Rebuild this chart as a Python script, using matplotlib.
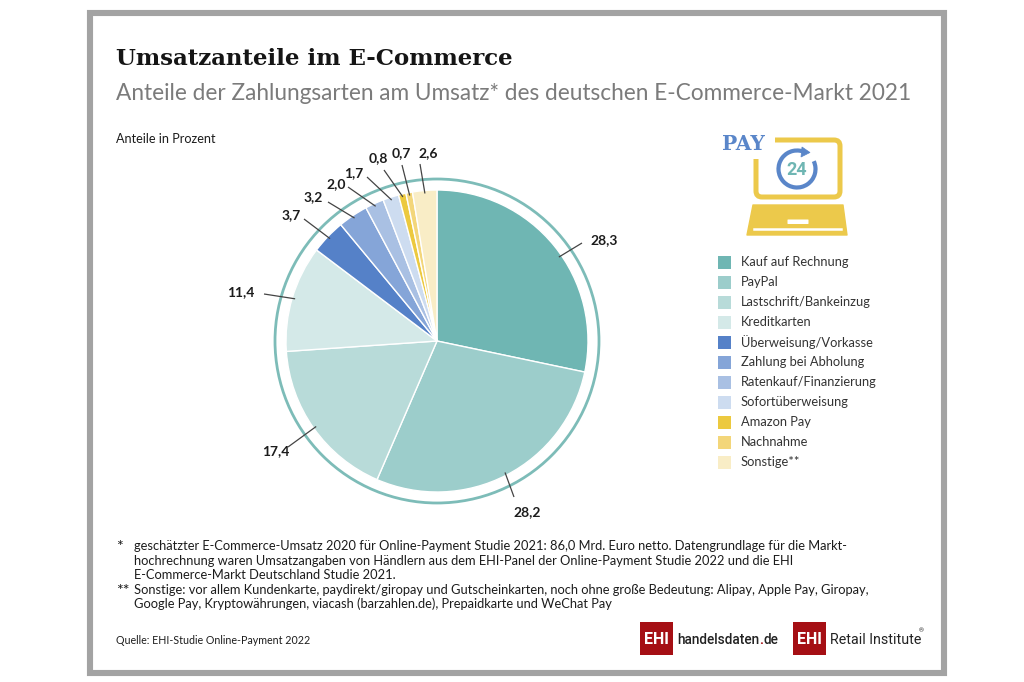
"""Umsatzanteile im E-Commerce: pie chart with legend, icon and footnotes."""

import numpy as np
import matplotlib
matplotlib.use("Agg")
import matplotlib.pyplot as plt
from matplotlib.patches import Arc, Circle, FancyBboxPatch, PathPatch, Polygon, Rectangle
from matplotlib.path import Path

# ---------------------------------------------------------------------------
# Data
# ---------------------------------------------------------------------------
categories = [
    "Kauf auf Rechnung", "PayPal", "Lastschrift/Bankeinzug", "Kreditkarten",
    "Überweisung/Vorkasse", "Zahlung bei Abholung", "Ratenkauf/Finanzierung",
    "Sofortüberweisung", "Amazon Pay", "Nachnahme", "Sonstige**",
]
shares = [28.3, 28.2, 17.4, 11.4, 3.7, 3.2, 2.0, 1.7, 0.8, 0.7, 2.6]
share_labels = ["28,3", "28,2", "17,4", "11,4", "3,7", "3,2", "2,0", "1,7", "0,8", "0,7", "2,6"]
slice_colors = [
    "#6fb6b3", "#9ccdcb", "#b8dbd9", "#d4e9e8", "#5581c8", "#85a5d8",
    "#a9c0e3", "#cddcf0", "#ecc93f", "#f3d67a", "#f9edc6",
]

footnotes = [
    "geschätzter E-Commerce-Umsatz 2020 für Online-Payment Studie 2021: 86,0 Mrd. Euro netto. Datengrundlage für die Markt-",
    "hochrechnung waren Umsatzangaben von Händlern aus dem EHI-Panel der Online-Payment Studie 2022 und die EHI",
    "E-Commerce-Markt Deutschland Studie 2021.",
    "Sonstige: vor allem Kundenkarte, paydirekt/giropay und Gutscheinkarten, noch ohne große Bedeutung: Alipay, Apple Pay, Giropay,",
    "Google Pay, Kryptowährungen, viacash (barzahlen.de), Prepaidkarte und WeChat Pay",
]

# ---------------------------------------------------------------------------
# Layout, in reference pixels
# ---------------------------------------------------------------------------
W, H = 1024, 682
CX, CY = 437, 341
PIE_R = 151
RING_R = 162
# label centre and outer end of the leader line, one per slice
label_pos = [(604, 240), (527, 512), (276, 451), (241, 292), (291, 215), (313, 197),
             (336, 184), (354, 173), (378, 158), (401, 153), (428, 153)]
leader_end = [(582, 243), (514, 497), (288, 447), (264, 294), (304, 219), (328, 202),
              (348, 187), (367, 177), (384, 170), (402, 165), (420, 164)]
leader_nudge = [4.5, 0, 0, 0, 0, 0, 0, 0, 0, 0, 0]  # degrees

SANS = "Lato"
TEXT = "#1c1c1c"
FRAME = "#a3a3a3"
YELLOW = "#ecc94b"
BLUE = "#5a86c9"
TEAL = "#6fb6b3"
RED = "#a50f14"

fig = plt.figure(figsize=(W / 100, H / 100), dpi=100, facecolor="white")

# overlay in pixel coordinates, y pointing down
ov = fig.add_axes([0, 0, 1, 1], zorder=2)
ov.set_xlim(0, W)
ov.set_ylim(H, 0)
ov.axis("off")
ov.patch.set_alpha(0)

ov.add_patch(Rectangle((90, 13), 854, 660, fill=False, ec=FRAME, lw=4.4))

# pie
span = 170
pie_ax = fig.add_axes([(CX - span) / W, 1 - (CY + span) / H, 2 * span / W, 2 * span / H], zorder=1)
wedges, _ = pie_ax.pie(
    shares, colors=slice_colors, startangle=90, counterclock=False, radius=PIE_R,
    wedgeprops={"edgecolor": "white", "linewidth": 1.0},
)
pie_ax.add_patch(Circle((0, 0), RING_R, fill=False, ec="#7dbcb8", lw=2.0))
pie_ax.set_xlim(-span, span)
pie_ax.set_ylim(-span, span)
pie_ax.set_aspect("equal")
pie_ax.axis("off")

# leaders and value labels
for wedge, lab, pos, end, nudge in zip(wedges, share_labels, label_pos, leader_end, leader_nudge):
    ang = np.deg2rad((wedge.theta1 + wedge.theta2) / 2 - nudge)
    start = (CX + 148 * np.cos(ang), CY - 148 * np.sin(ang))
    ov.plot([start[0], end[0]], [start[1], end[1]], color="#444444", lw=0.9, solid_capstyle="butt")
    ov.text(pos[0], pos[1], lab, ha="center", va="center", fontsize=10,
            fontfamily=SANS, fontweight="bold", color=TEXT)

# titles
ov.text(116, 59, "Umsatzanteile im E-Commerce", fontsize=16.5, fontfamily="DejaVu Serif",
        fontweight="bold", color="#151515", va="center", ha="left")
ov.text(116, 93, "Anteile der Zahlungsarten am Umsatz* des deutschen E-Commerce-Markt 2021",
        fontsize=16.34, fontfamily=SANS, color="#7b7b7b", va="center", ha="left")
ov.text(116, 139, "Anteile in Prozent", fontsize=9.1, fontfamily=SANS, color=TEXT, va="center")

# legend
for i, (name, col) in enumerate(zip(categories, slice_colors)):
    y = 262 + i * 20
    ov.add_patch(Rectangle((718, y - 6.5), 13, 13, fc=col, ec="none"))
    ov.text(741, y + 0.5, name, fontsize=9.3, fontfamily=SANS, color="#333333", va="center")

# laptop icon
screen = Path(
    [(775, 140), (834, 140), (840, 140), (840, 146), (840, 191), (840, 197), (834, 197),
     (762, 197), (756, 197), (756, 191), (756, 159)],
    [Path.MOVETO, Path.LINETO, Path.CURVE3, Path.CURVE3, Path.LINETO, Path.CURVE3, Path.CURVE3,
     Path.LINETO, Path.CURVE3, Path.CURVE3, Path.LINETO],
)
ov.add_patch(PathPatch(screen, fill=False, ec=YELLOW, lw=3.6, capstyle="butt"))
ov.add_patch(Polygon([(753, 205), (843, 205), (847, 235), (747, 235)], closed=True, fc=YELLOW, ec=YELLOW, lw=1, joinstyle="round"))
ov.add_patch(FancyBboxPatch((788, 220), 20, 3.5, boxstyle="round,pad=0.5", fc="white", ec="none"))
ov.plot([754, 841], [229, 229], color="white", lw=1.8)
# y axis is inverted, so the arc angles run clockwise on screen
ov.add_patch(Arc((797, 169), 37, 37, theta1=-25, theta2=298, ec=BLUE, lw=3.0))
ov.add_patch(Polygon([(802, 147), (810, 152.5), (801, 157)], closed=True, fc=BLUE, ec=BLUE, lw=0.5))
ov.text(797, 170, "24", fontsize=13, fontfamily="Roboto", fontweight="bold", color=TEAL, ha="center", va="center")
ov.text(722, 144, "PAY", fontsize=14.5, fontfamily="DejaVu Serif", fontweight="bold", color=BLUE, ha="left", va="center")

# footnotes
ov.text(116, 547, "*", fontsize=11.5, fontfamily=SANS, color=TEXT, va="center")
ov.text(116, 591, "**", fontsize=11.5, fontfamily=SANS, color=TEXT, va="center")
for line, y in zip(footnotes, [546, 561, 575, 590, 604]):
    ov.text(134, y, line, fontsize=9.25, fontfamily=SANS, color=TEXT, va="center")
ov.text(116, 640, "Quelle: EHI-Studie Online-Payment 2022", fontsize=7.7, fontfamily=SANS, color=TEXT, va="center")

# logos
for x0 in (640, 793):
    ov.add_patch(Rectangle((x0, 622), 33, 33, fc=RED, ec="none"))
    ov.text(x0 + 16.5, 639, "EHI", fontsize=11.5, fontfamily="Roboto", fontweight="bold", color="white", ha="center", va="center")
t = ov.text(677, 644, "handelsdaten", fontsize=9.8, fontfamily="Roboto", fontweight="medium", color="#222222", va="baseline")
t2 = ov.annotate(".", xy=(1, 0), xycoords=t, fontsize=9.8, fontfamily="Roboto", fontweight="bold", color=RED, va="bottom")
ov.annotate("de", xy=(1, 0), xycoords=t2, fontsize=9.8, fontfamily="Roboto", fontweight="medium", color="#222222", va="bottom")
ov.text(830, 644, "Retail Institute", fontsize=10.3, fontfamily="Roboto", color="#222222", va="baseline")
ov.text(921, 631, "®", fontsize=4.5, fontfamily="Roboto", color="#222222", ha="center", va="center")

fig.savefig("out.png", dpi=100, facecolor="white")
